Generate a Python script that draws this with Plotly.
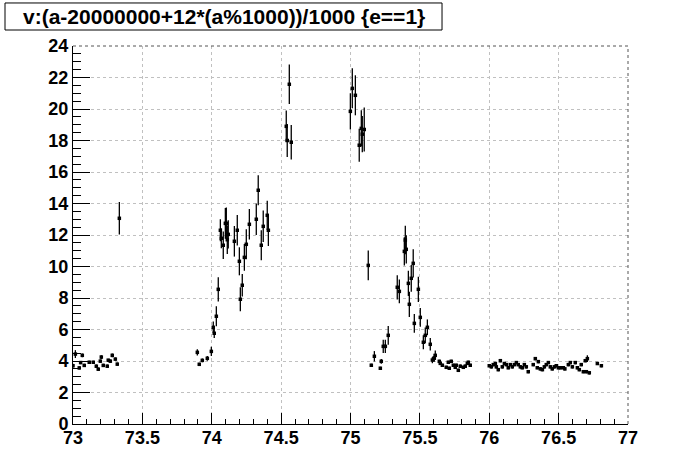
import plotly.graph_objects as go

# ---- data ----
x_a = [73.000, 73.017, 73.045, 73.055, 73.067, 73.081, 73.117, 73.146, 73.168, 73.182,
       73.197, 73.204, 73.218, 73.247, 73.254, 73.269, 73.283, 73.305, 73.319, 73.334]
y_a = [3.70, 4.44, 3.56, 3.90, 4.36, 3.72, 3.92, 3.92, 3.67, 3.48,
       3.99, 4.25, 3.72, 3.67, 4.05, 3.99, 4.36, 4.12, 3.80, 13.06]
e_a = [0.12, 0.25, 0.1, 0.1, 0.12, 0.1, 0.1, 0.1, 0.1, 0.1,
       0.1, 0.12, 0.1, 0.1, 0.1, 0.1, 0.12, 0.1, 0.1, 1.03]

x_b = [73.896, 73.910, 73.932, 73.968, 73.997, 74.011, 74.018, 74.033, 74.047, 74.062,
       74.069, 74.083, 74.098, 74.105, 74.112, 74.119, 74.163, 74.184, 74.199, 74.206,
       74.220, 74.235, 74.249, 74.271, 74.321, 74.335, 74.357, 74.371, 74.400, 74.408]
y_b = [4.55, 3.79, 4.04, 4.17, 4.61, 6.14, 5.76, 6.84, 8.55, 12.30,
       11.79, 11.35, 12.74, 12.74, 11.70, 12.04, 11.60, 12.30, 10.33, 7.92,
       8.81, 10.58, 11.41, 12.68, 13.00, 14.84, 11.35, 12.55, 13.25, 12.30]
e_b = [0.2, 0.1, 0.12, 0.15, 0.3, 0.37, 0.3, 0.63, 0.77, 0.7,
       0.63, 0.87, 0.98, 1.0, 0.9, 0.9, 0.97, 0.97, 0.89, 0.76,
       0.72, 0.85, 0.95, 0.97, 1.0, 0.95, 0.95, 1.0, 0.93, 1.0]

x_c = [74.537, 74.544, 74.559, 74.573,
       74.999, 75.013, 75.035, 75.063, 75.078, 75.085, 75.099, 75.128]
y_c = [18.90, 18.00, 21.57, 17.89,
       19.85, 21.31, 20.87, 17.70, 18.77, 18.40, 18.70, 10.07]
e_c = [1.0, 1.05, 1.25, 1.1,
       1.15, 1.27, 1.27, 1.05, 1.15, 1.15, 1.4, 0.95]

x_d = [75.150, 75.172, 75.215, 75.222, 75.236, 75.251, 75.272, 75.337, 75.352, 75.388,
       75.395, 75.402, 75.417, 75.424, 75.438, 75.452, 75.460, 75.489, 75.503, 75.525,
       75.539, 75.554, 75.575, 75.590, 75.604, 75.611, 75.640, 75.647, 75.662, 75.690,
       75.705, 75.712, 75.726, 75.741, 75.755, 75.762, 75.777, 75.791, 75.813, 75.827,
       75.842, 75.849, 75.863]
y_d = [3.73, 4.30, 3.54, 3.98, 4.93, 4.93, 5.63, 8.68, 8.42, 10.96,
       11.68, 11.09, 8.93, 7.60, 9.25, 10.20, 6.39, 8.55, 6.77, 5.19,
       5.63, 6.14, 5.06, 4.06, 4.20, 4.36, 3.98, 3.85, 3.73, 3.60,
       3.92, 3.54, 3.98, 3.73, 3.60, 3.73, 3.41, 3.67, 3.60, 3.67,
       3.85, 3.92, 3.73]
e_d = [0.1, 0.33, 0.1, 0.15, 0.42, 0.42, 0.6, 0.77, 0.76, 0.9,
       0.9, 0.9, 0.8, 0.8, 0.85, 0.9, 0.6, 0.8, 0.6, 0.45,
       0.5, 0.5, 0.4, 0.2, 0.25, 0.3, 0.1, 0.1, 0.1, 0.1,
       0.1, 0.1, 0.1, 0.1, 0.1, 0.1, 0.1, 0.1, 0.1, 0.1,
       0.1, 0.1, 0.1]

x_e = [76.000, 76.015, 76.029, 76.044, 76.051, 76.065, 76.080, 76.094, 76.109, 76.123,
       76.137, 76.152, 76.166, 76.181, 76.195, 76.209, 76.224, 76.238, 76.253, 76.267,
       76.281, 76.317, 76.332, 76.346, 76.354, 76.368, 76.383, 76.397, 76.411, 76.426,
       76.440, 76.454, 76.469, 76.483, 76.498, 76.512, 76.534, 76.545, 76.570, 76.584,
       76.599, 76.620, 76.635, 76.649, 76.663, 76.678, 76.692, 76.700, 76.707, 76.721,
       76.779, 76.808]
y_e = [3.70, 3.63, 3.77, 3.84, 3.63, 3.45, 4.02, 3.63, 3.84, 3.77,
       3.57, 3.77, 3.63, 3.77, 3.90, 3.77, 3.63, 3.57, 3.77, 3.63,
       3.32, 3.77, 4.15, 3.57, 3.96, 3.50, 3.45, 3.63, 3.77, 3.90,
       3.63, 3.50, 3.63, 3.70, 3.57, 3.57, 3.57, 3.50, 3.77, 3.90,
       3.63, 3.90, 3.57, 3.45, 3.77, 3.32, 4.02, 3.32, 4.15, 3.25,
       3.84, 3.70]
e_e = [0.1] * len(x_e)
e_e[48] = 0.22

title_text = "v:(a-20000000+12*(a%1000))/1000 {e==1}"
x_ticks = [73, 73.5, 74, 74.5, 75, 75.5, 76, 76.5, 77]
x_labels = ["73", "73.5", "74", "74.5", "75", "75.5", "76", "76.5", "77"]
y_ticks = list(range(0, 25, 2))

xs = x_a + x_b + x_c + x_d + x_e
ys = y_a + y_b + y_c + y_d + y_e
es = e_a + e_b + e_c + e_d + e_e

fig = go.Figure()
fig.add_trace(go.Scatter(
    x=xs, y=ys, mode="markers",
    marker=dict(symbol="square", size=3.5, color="black", line=dict(width=0)),
    error_y=dict(type="data", array=es, visible=True, color="black",
                 thickness=1.3, width=0),
    showlegend=False, hoverinfo="x+y",
))

tickfont = dict(family="Liberation Sans", size=18, color="black", weight="bold")

fig.update_layout(
    width=696, height=472,
    margin=dict(l=73, r=68, t=46, b=48),
    paper_bgcolor="white", plot_bgcolor="white",
    xaxis=dict(
        range=[73, 77], tickvals=x_ticks, ticktext=x_labels,
        ticks="inside", ticklen=11, tickwidth=1, tickcolor="black",
        showline=True, linecolor="black", linewidth=1,
        showgrid=True, gridcolor="#c0c0c0", griddash="dot", gridwidth=1,
        zeroline=False, tickfont=tickfont, automargin=False,
        ticklabelstandoff=-3,
        minor=dict(dtick=0.1, tick0=73, ticks="inside", ticklen=5.5,
                   tickcolor="black", tickwidth=1, showgrid=False),
    ),
    yaxis=dict(
        range=[0, 24], tickvals=y_ticks,
        ticks="inside", ticklen=17, tickwidth=1, tickcolor="black",
        showline=True, linecolor="black", linewidth=1,
        showgrid=True, gridcolor="#c0c0c0", griddash="dot", gridwidth=1,
        zeroline=False, tickfont=tickfont, automargin=False,
        minor=dict(dtick=0.5, tick0=0, ticks="inside", ticklen=8,
                   tickcolor="black", tickwidth=1, showgrid=False),
    ),
    shapes=[
        dict(type="line", xref="paper", yref="paper", x0=0, x1=1, y0=1, y1=1,
             line=dict(color="#555555", width=1, dash="dot")),
        dict(type="line", xref="paper", yref="paper", x0=1, x1=1, y0=0, y1=1,
             line=dict(color="#555555", width=1, dash="dot")),
        dict(type="rect", xref="paper", yref="paper",
             x0=-0.1225, x1=0.6649, y0=1.0423, y1=1.1138,
             line=dict(color="black", width=1), fillcolor="white"),
    ],
    annotations=[
        dict(text=title_text, xref="paper", yref="paper", x=0.2712, y=1.078,
             xanchor="center", yanchor="middle", showarrow=False,
             font=dict(family="Liberation Sans", size=21, color="black", weight="bold")),
    ],
)

# remove the default 8px page margin so the figure sits at the window's corner
fig.write_html("out.html",
               config={"displayModeBar": False},
               post_script="document.body.style.margin='0';document.body.style.overflow='hidden';")
